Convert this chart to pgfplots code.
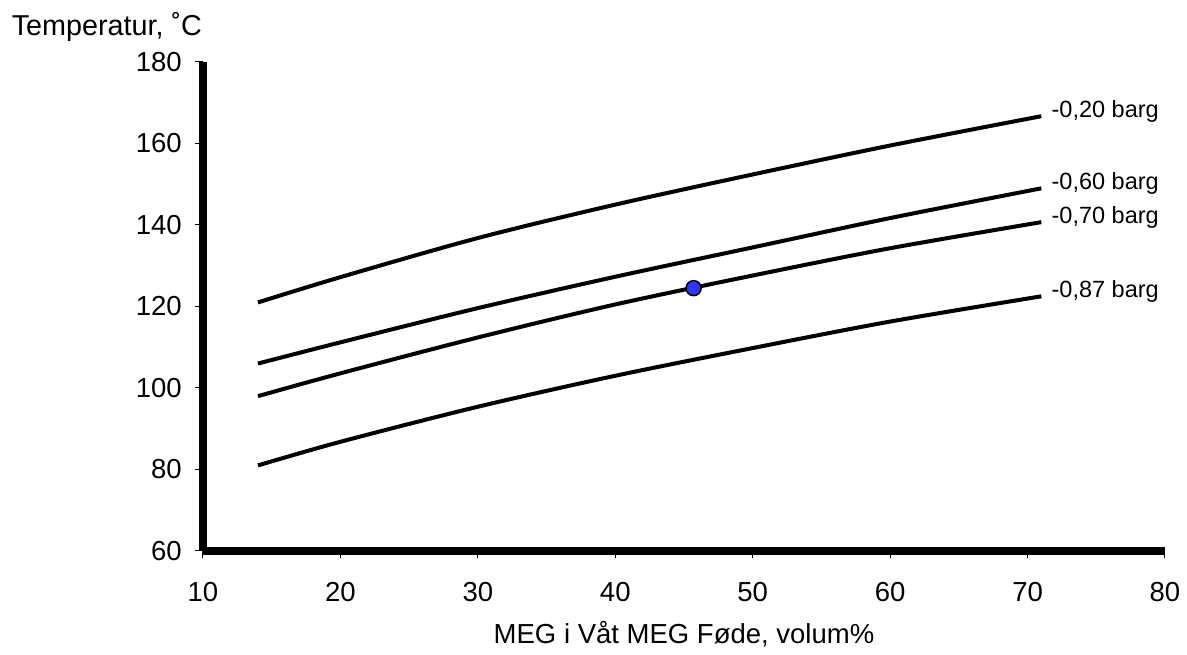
\documentclass[border=0pt]{standalone}
\usepackage{pgfplots}
\pgfplotsset{compat=1.18}
\usepackage{fontspec}
\setmainfont{Liberation Sans}
\tikzset{curvelabel/.style={anchor=west, yshift=2pt, font=\fontsize{9.4}{11}\selectfont}}

\begin{document}
\begin{tikzpicture}
\path[use as bounding box] (-81.2pt,-41.6pt) rectangle (393.6pt,220.4pt);
\begin{axis}[
    at={(0,0)}, anchor=south west,
    scale only axis,
    width=384.8pt, height=195.6pt,
    xmin=10, xmax=80, ymin=60, ymax=180,
    xtick={10,20,...,80}, ytick={60,80,...,180},
    axis x line=bottom, axis y line=left,
    axis line style={line width=3.2pt,-},
    tick align=outside, tick style={black, thin},
    major tick length=3pt,
    font=\fontsize{11}{13}\selectfont,
    /pgf/number format/assume math mode=true,
    xticklabel style={yshift=-6pt},
    yticklabel style={xshift=-2pt},
    xlabel={MEG i Våt MEG Føde, volum\%},
    xlabel style={yshift=-1pt},
    clip=false,
]
\addplot[black, line width=1.6pt, smooth] coordinates {
    (14,121) (20,127.2) (30,136.8) (40,145) (50,152.4) (60,159.5) (71,166.7)
} node[curvelabel] {-0,20 barg};
\addplot[black, line width=1.6pt, smooth] coordinates {
    (14,106) (20,111.2) (30,119.6) (40,127.3) (50,134.5) (60,141.7) (71,149)
} node[curvelabel] {-0,60 barg};
\addplot[black, line width=1.6pt, smooth] coordinates {
    (14,98) (20,103.6) (30,112.4) (40,120.5) (50,127.6) (60,134.3) (71,140.7)
} node[curvelabel] {-0,70 barg};
\addplot[black, line width=1.6pt, smooth] coordinates {
    (14,81) (20,86.8) (30,95.4) (40,103) (50,109.8) (60,116.3) (71,122.5)
} node[curvelabel] {-0,87 barg};
\addplot[only marks, mark=*, mark size=3pt, mark options={fill=blue!80!white, draw=black, line width=0.6pt}] coordinates {(45.7,124.5)};
\node[anchor=base west, font=\fontsize{11.5}{13}\selectfont] at ([xshift=-80pt, yshift=10.5pt]rel axis cs:0,1) {Temperatur, ˚C};
\end{axis}
\end{tikzpicture}
\end{document}
